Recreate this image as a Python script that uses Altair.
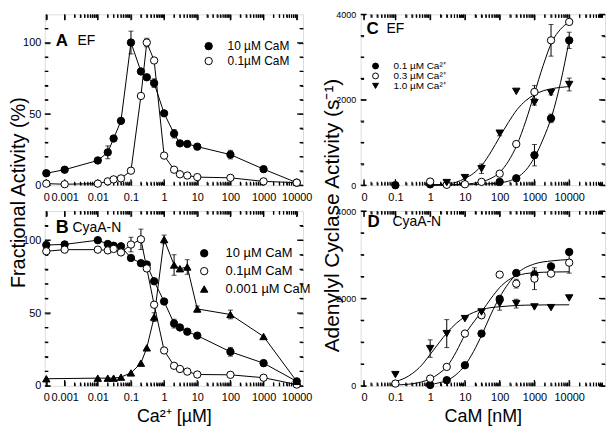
import json
import math
import altair as alt
import pandas as pd

FONT = "Liberation Sans"
TICKFONT = "'Liberation Sans Narrow', 'Liberation Sans', sans-serif"

# ---------------- Panels A / B : free Ca2+ (µM) ----------------
ZERO_AB = 0.00028          # where the "0" Ca2+ column sits on the log axis
ca_conc = [0, 0.001, 0.01, 0.02, 0.03, 0.05, 0.1, 0.2, 0.3, 0.5, 1, 2, 3, 5, 10, 100, 1000, 10000]

a_names = ["10 µM CaM", "0.1µM CaM"]
a_cam10 = [8.4, 10.9, 17.4, 23.1, 32.8, 45.2, 100.2, 79.9, 75.8, 71.7, 50.5, 36.2, 29.4, 29.0, 27.1, 21.5, 11.3, 1.8]
a_cam10_err = [0, 0, 0, 4.5, 0, 0, 8, 0, 0, 3, 0, 3, 0, 0, 0, 3, 0, 0]
a_cam01 = [1.1, 0.7, 1.1, 2.7, 4.1, 4.8, 10.2, 62.7, 100.2, 87.6, 20.8, 10.9, 7.7, 6.8, 5.7, 5.2, 2.7, 1.8]
a_cam01_err = [0, 0, 0, 0, 0, 0, 0, 0, 3, 0, 0, 0, 0, 0, 0, 0, 0, 0]

b_names = ["10 µM CaM", "0.1µM CaM", "0.001 µM CaM"]
b_cam10 = [96.7, 97.1, 100.0, 97.4, 96.2, 95.8, 87.8, 84.2, 83.3, 71.8, 57.9, 42.8, 40.1, 37.2, 34.5, 23.4, 15.6, 3.1]
b_cam10_err = [0, 0, 0, 0, 0, 0, 0, 0, 0, 0, 0, 3, 0, 0, 0, 3, 2, 0]
b_cam01 = [92.4, 93.5, 93.5, 93.0, 94.0, 91.6, 97.0, 100.6, 80.6, 55.7, 24.3, 13.8, 11.6, 9.8, 7.8, 7.6, 5.6, 0.9]
b_cam01_err = [0, 0, 0, 0, 0, 0, 5, 7, 0, 0, 0, 0, 0, 0, 0, 0, 0, 0]
b_cam0001 = [4.9, None, 5.3, 5.3, 5.3, 6.0, 8.9, 15.6, 26.1, 47.2, 100.5, 83.0, 80.4, 81.6, 52.8, 49.0, 33.9, 3.1]
b_cam0001_err = [0, 0, 0, 0, 0, 0, 0, 0, 0, 3, 3, 7, 0, 5, 2, 3, 0, 0]

# ---------------- Panels C / D : CaM (nM) ----------------
cam_conc = [0.1, 1, 3, 10, 30, 100, 300, 1000, 3000, 10000]
cd_names = ["0.1 µM Ca²⁺", "0.3 µM Ca²⁺", "1.0 µM Ca²⁺"]

c_ca01 = [0, 20, None, None, None, 78, 162, 703, 1565, 3392]
c_ca01_err = [0, 0, 0, 0, 0, 0, 0, 250, 100, 190]
c_ca03 = [None, 85, 10, 23, 78, 270, 964, 2183, 3392, 3823]
c_ca03_err = [0, 0, 0, 0, 0, 0, 0, 150, 370, 0]
c_ca10 = [None, None, 62, 178, 386, 1218, 2197, 1935, 2166, 2358]
c_ca10_err = [0, 0, 0, 0, 110, 60, 0, 60, 50, 150]

c_fit_conc = [1, 1.78, 3.16, 5.62, 10, 17.8, 31.6, 56.2, 100, 178, 316, 562, 1000, 1778, 3162, 5623, 10000]
c_fit_ca01 = [0, 1, 2, 5, 8, 15, 25, 35, 55, 95, 180, 350, 650, 1080, 1620, 2400, 3392]
c_fit_ca03 = [3, 5, 8, 14, 25, 45, 85, 160, 300, 560, 950, 1500, 2150, 2800, 3350, 3650, 3823]
c_fit_ca10 = [8, 15, 30, 70, 160, 280, 480, 780, 1130, 1470, 1770, 1980, 2120, 2210, 2260, 2290, 2310]

d_ca01 = [None, 20, 130, 472, 1196, 1990, 2583, 2545, 2735, 3063]
d_ca01_err = [0, 0, 0, 0, 0, 0, 0, 100, 0, 0]
d_ca03 = [53, 167, 434, 1196, 1615, 2545, 2339, 2453, 2568, 2819]
d_ca03_err = [0, 0, 0, 0, 0, 0, 100, 250, 0, 240]
d_ca10 = [258, 853, 1196, 1539, 1691, 1882, 1882, 1806, 1790, 2011]
d_ca10_err = [0, 200, 320, 0, 0, 150, 100, 0, 0, 0]

d_fit_conc = [0.1, 0.178, 0.316, 0.562, 1, 1.78, 3.16, 5.62, 10, 17.8, 31.6, 56.2, 100, 316, 1000, 3162, 10000]
d_fit_ca01 = [None, None, None, None, 30, 70, 130, 260, 470, 790, 1190, 1640, 2030, 2570, 2790, 2860, 2890]
d_fit_ca03 = [20, 30, 50, 90, 160, 280, 460, 780, 1170, 1460, 1720, 2000, 2250, 2520, 2590, 2605, 2610]
d_fit_ca10 = [100, 170, 290, 470, 720, 980, 1230, 1430, 1580, 1680, 1750, 1790, 1810, 1840, 1850, 1853, 1855]

# ---------------- axis tick lists ----------------
ab_major = [ZERO_AB, 0.001, 0.01, 0.1, 1, 10, 100, 1000, 10000]
ab_labels = ["0", "0.001", "0.01", "0.1", "1", "10", "100", "1000", "10000"]
ab_minor = [k * 10 ** d for d in range(-3, 4) for k in range(2, 10)]
ZERO_CD = 0.0125
cd_major = [ZERO_CD, 0.1, 1, 10, 100, 1000, 10000]
cd_labels = ["0", "0.1", "1", "10", "100", "1000", "10000"]
cd_minor = [k * 10 ** d for d in range(-2, 5) for k in range(2, 10)]
pct_major = [0, 50, 100]
pct_labels = ["0", "50", "100"]
pct_minor = [10, 20, 30, 40, 60, 70, 80, 90, 110]
act_major = [0, 2000, 4000]
act_labels = ["0", "2000", "4000"]
act_minor = [500, 1000, 1500, 2500, 3000, 3500]

AB_X = (10 ** -3.6, 10 ** 4.19)
CD_X = (10 ** -2.0, 10 ** 5.03)
PCT_Y = (0, 120)
ACT_Y = (0, 4000)


def frames(conc, names, values, errors, zero_pos):
    pts, errs = [], []
    for name, vals, es in zip(names, values, errors):
        for c, v, e in zip(conc, vals, es):
            if v is None:
                continue
            x = zero_pos if c == 0 else c
            pts.append({"conc": x, "val": v, "s": name})
            if e:
                errs.append({"conc": x, "lo": v - e, "hi": v + e, "s": name})
    return pd.DataFrame(pts), pd.DataFrame(errs)


def fit_frame(conc, names, values):
    rows = []
    for name, vals in zip(names, values):
        for c, v in zip(conc, vals):
            if v is not None:
                rows.append({"conc": c, "val": v, "s": name})
    return pd.DataFrame(rows)


def ax(values, orient, length, labels=None, size=11, pad=6, extra=None):
    kw = dict(orient=orient, values=values, grid=False, domain=False, ticks=True,
              tickSize=length, offset=-length, tickColor="black", tickWidth=1,
              title=None, labels=labels is not None)
    if labels is not None:
        mj = json.dumps(values)
        lb = json.dumps(labels, ensure_ascii=False)
        kw.update(labelExpr=f"indexof({mj}, datum.value) >= 0 ? {lb}[indexof({mj}, datum.value)] : ''",
                  labelFont=TICKFONT, labelFontSize=size, labelColor="black",
                  labelPadding=pad, labelOverlap=False, labelFlush=False)
    if extra:
        kw.update(extra)
    return alt.Axis(**kw)


def frame_ticks(xmaj, xmin, ymaj, ymin, xdom, ydom, xscale, yscale, W, H):
    """Inward frame ticks drawn as tick marks (like error-bar caps), centred half a length inside."""
    x0, x1 = xdom
    y0, y1 = ydom
    dec_per_px = (math.log10(x1) - math.log10(x0)) / W
    val_per_px = (y1 - y0) / H
    out = []
    for vals, L in ((xmaj, 6), (xmin, 3.5)):
        d = L / 2 * val_per_px
        df = pd.DataFrame([{"tx": v, "ty": yy} for v in vals for yy in (y0 + d, y1 - d)])
        out.append(alt.Chart(df).mark_tick(orient="vertical", color="black", thickness=1.2,
                                           size=L, opacity=1).encode(
            x=alt.X("tx:Q", scale=xscale, axis=None), y=alt.Y("ty:Q", scale=yscale, axis=None)))
    for vals, L in ((ymaj, 6), (ymin, 3.5)):
        f = 10 ** (L / 2 * dec_per_px)
        df = pd.DataFrame([{"tx": xx, "ty": v} for v in vals for xx in (x0 * f, x1 / f)])
        out.append(alt.Chart(df).mark_tick(orient="horizontal", color="black", thickness=1.2,
                                           size=L, opacity=1).encode(
            x=alt.X("tx:Q", scale=xscale, axis=None), y=alt.Y("ty:Q", scale=yscale, axis=None)))
    return out


def panel(pts, errs, line_df, interp, names, shapes, fills, xscale, yscale,
          axes, ticks, legend, size, tags):
    W, H = size
    (xb, yl), (xb2, yl2), (xt, yr), (xt2, yr2) = axes
    lines = alt.Chart(line_df).mark_line(color="black", strokeWidth=1, interpolate=interp).encode(
        x=alt.X("conc:Q", scale=xscale, axis=xb),
        y=alt.Y("val:Q", scale=yscale, axis=yl),
        detail="s:N")
    carriers = [
        alt.Chart(pts).mark_point(opacity=0).encode(
            x=alt.X("conc:Q", scale=xscale, axis=xa),
            y=alt.Y("val:Q", scale=yscale, axis=ya))
        for xa, ya in ((xb2, yl2), (xt, yr), (xt2, yr2))
    ]
    bars = alt.Chart(errs).mark_errorbar(color="black", thickness=1, ticks={"size": 5}).encode(
        x=alt.X("conc:Q", scale=xscale, axis=None),
        y=alt.Y("lo:Q", scale=yscale, axis=None),
        y2="hi:Q")
    dots = alt.Chart(pts).mark_point(filled=True, size=55, strokeWidth=1, opacity=1).encode(
        x=alt.X("conc:Q", scale=xscale, axis=None),
        y=alt.Y("val:Q", scale=yscale, axis=None),
        shape=alt.Shape("s:N", scale=alt.Scale(domain=names, range=shapes), legend=legend),
        fill=alt.Fill("s:N", scale=alt.Scale(domain=names, range=fills), legend=legend),
        stroke=alt.Stroke("s:N", scale=alt.Scale(domain=names, range=["black"] * len(names)),
                          legend=legend))
    layers = [lines] + carriers + [bars] + frame_ticks(*ticks, xscale, yscale, W, H) + [dots]
    for text, px, py, fs, fw in tags:
        layers.append(
            alt.Chart(pd.DataFrame({"t": [text]})).mark_text(
                align="left", baseline="middle", font=FONT, fontSize=fs, fontWeight=fw, color="black"
            ).encode(text="t:N", x=alt.value(px), y=alt.value(py)))
    return alt.layer(*layers).resolve_axis(x="independent", y="independent").properties(
        width=W, height=H)


def legend(x, y, fs, rowpad, offset, sym):
    return alt.Legend(orient="none", legendX=x, legendY=y, title=None, labelFont=FONT,
                      labelFontSize=fs, labelColor="black", rowPadding=rowpad, labelOffset=offset,
                      symbolSize=sym, symbolStrokeWidth=1, padding=0)


x_ab = alt.Scale(type="log", domain=list(AB_X))
x_cd = alt.Scale(type="log", domain=list(CD_X))
y_pct = alt.Scale(domain=list(PCT_Y), nice=False, zero=False)
y_act = alt.Scale(domain=list(ACT_Y), nice=False, zero=False)

title_y_left = dict(title="Fractional Activity (%)", titleFont=FONT, titleFontSize=20,
                    titleFontWeight="normal", titleColor="black", titleAngle=270,
                    titleAlign="center", titleBaseline="bottom", titleX=-21, titleY=179)
title_y_right = dict(title="Adenylyl Cyclase Activity (s⁻¹)", titleFont=FONT, titleFontSize=21,
                     titleFontWeight="normal", titleColor="black", titleAngle=270,
                     titleAlign="center", titleBaseline="bottom", titleX=-23, titleY=202)
title_ca = dict(title="Ca²⁺ [µM]", titleFont=FONT, titleFontSize=18, titleFontWeight="normal",
                titleColor="black", titlePadding=5)
title_cam = dict(title="CaM [nM]", titleFont=FONT, titleFontSize=18, titleFontWeight="normal",
                 titleColor="black", titlePadding=5)


def ab_axes(xtitle=None, ytitle=None):
    return ((ax(ab_major, "bottom", 5, ab_labels, extra=xtitle),
             ax(pct_major, "left", 5, pct_labels, pad=4, extra=ytitle)),
            (ax(ab_minor, "bottom", 3), ax(pct_minor, "left", 3)),
            (ax(ab_major, "top", 5), ax(pct_major, "right", 5)),
            (ax(ab_minor, "top", 3), ax(pct_minor, "right", 3)))


def cd_axes(xtitle=None, ytitle=None):
    return ((ax(cd_major, "bottom", 5, cd_labels, extra=xtitle),
             ax(act_major, "left", 5, act_labels, size=9, pad=5, extra=ytitle)),
            (ax(cd_minor, "bottom", 3), ax(act_minor, "left", 3)),
            (ax(cd_major, "top", 5), ax(act_major, "right", 5)),
            (ax(cd_minor, "top", 3), ax(act_minor, "right", 3)))


ab_ticks = (ab_major, ab_minor, pct_major, pct_minor, AB_X, PCT_Y)
cd_ticks = (cd_major, cd_minor, act_major, act_minor, CD_X, ACT_Y)

# Panel A
a_pts, a_err = frames(ca_conc, a_names, [a_cam10, a_cam01], [a_cam10_err, a_cam01_err], ZERO_AB)
pA = panel(a_pts, a_err, a_pts, "linear", a_names, ["circle", "circle"], ["black", "white"],
           x_ab, y_pct, ab_axes(ytitle=title_y_left), ab_ticks,
           legend(159, 26, 12, 3, 13, 55), (260, 172),
           [("A", 11, 27, 17, "bold"), ("EF", 33, 27, 14, "normal")])

# Panel B
b_pts, b_err = frames(ca_conc, b_names, [b_cam10, b_cam01, b_cam0001],
                      [b_cam10_err, b_cam01_err, b_cam0001_err], ZERO_AB)
pB = panel(b_pts, b_err, b_pts, "linear", b_names, ["circle", "circle", "triangle-up"],
           ["black", "white", "black"], x_ab, y_pct, ab_axes(xtitle=title_ca), ab_ticks,
           legend(154, 36, 13, 4, 15, 55), (260, 176),
           [("B", 11, 17, 18, "bold"), ("CyaA-N", 28, 17, 14, "normal")])

# Panel C
c_pts, c_err = frames(cam_conc, cd_names, [c_ca01, c_ca03, c_ca10], [c_ca01_err, c_ca03_err, c_ca10_err], ZERO_CD)
c_fit = fit_frame(c_fit_conc, cd_names, [c_fit_ca01, c_fit_ca03, c_fit_ca10])
pC = panel(c_pts, c_err, c_fit, "monotone", cd_names, ["circle", "circle", "triangle-down"],
           ["black", "white", "black"], x_cd, y_act, cd_axes(ytitle=title_y_right), cd_ticks,
           legend(10, 47, 10, 0, 13, 35), (246, 172),
           [("C", 6, 15, 17, "bold"), ("EF", 26, 15, 14, "normal")])

# Panel D
d_pts, d_err = frames(cam_conc, cd_names, [d_ca01, d_ca03, d_ca10], [d_ca01_err, d_ca03_err, d_ca10_err], ZERO_CD)
d_fit = fit_frame(d_fit_conc, cd_names, [d_fit_ca01, d_fit_ca03, d_fit_ca10])
pD = panel(d_pts, d_err, d_fit, "monotone", cd_names, ["circle", "circle", "triangle-down"],
           ["black", "white", "black"], x_cd, y_act, cd_axes(xtitle=title_cam), cd_ticks,
           None, (246, 176),
           [("D", 7, 11, 17, "bold"), ("CyaA-N", 32, 11, 14, "normal")])

chart = alt.concat(pA, pC, pB, pD, columns=2, spacing={"row": 26, "column": 58}, bounds="flush")
chart = chart.resolve_scale(shape="independent", fill="independent", stroke="independent")
chart = chart.properties(padding={"left": 0, "top": 0, "right": 0, "bottom": 0}, background="white")
chart = chart.configure_view(stroke="black", strokeWidth=1.3).configure(font=FONT)

chart.save("out.html", embed_options={"renderer": "svg", "actions": False})
